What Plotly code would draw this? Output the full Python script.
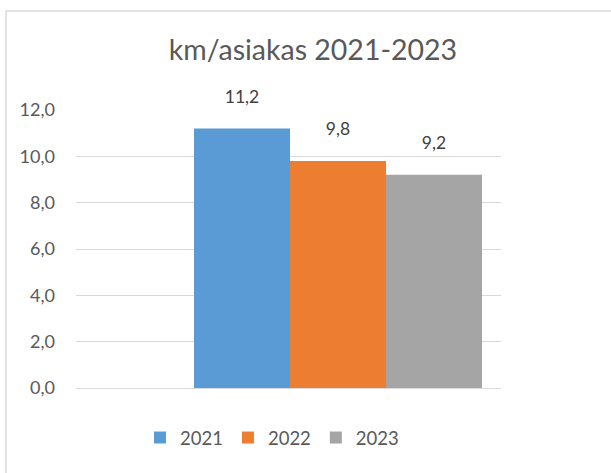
import plotly.graph_objects as go

years = ["2021", "2022", "2023"]
values = [11.2, 9.8, 9.2]
colors = ["#5b9bd5", "#ed7d31", "#a5a5a5"]
category = [0]
yticks = [0, 2, 4, 6, 8, 10, 12]

fig = go.Figure()
for yr, v, c in zip(years, values, colors):
    fig.add_trace(go.Bar(
        x=category, y=[v], name=yr, marker_color=c, marker_line_width=0,
        text=[v],
        texttemplate="%{y:.1f}<br><span style='font-size:1px'> </span>",
        textposition="outside",
        textfont=dict(size=17.5, color="#404040"), cliponaxis=False,
        hoverinfo="skip",
    ))

L, R, T, B = 76, 110, 110, 85
W, H = 611, 473
pw, ph = W - L - R, H - T - B
bargap = 0.32
grp_px = 288
units = pw / grp_px * (1 - bargap)
cx = 338
xr = [-(cx - L) / pw * units, (W - R - cx) / pw * units]

fig.update_layout(
    width=W, height=H,
    margin=dict(l=L, r=R, t=T, b=B),
    paper_bgcolor="white", plot_bgcolor="white",
    font=dict(family="Lato, Open Sans, sans-serif", color="#595959", size=16),
    separators=", ",
    barmode="group", bargap=bargap, bargroupgap=0,
    title=dict(text="km/asiakas 2021-2023", x=313 / W, xanchor="center",
               y=1 - 50 / H, yanchor="middle",
               font=dict(size=28.5, color="#595959")),
    showlegend=True,
    legend=dict(orientation="h", x=(272 - L) / pw, xanchor="center",
                y=(388 - 438) / ph, yanchor="middle",
                font=dict(size=18.5, color="#595959"),
                itemwidth=30, traceorder="normal"),
    xaxis=dict(range=xr, showticklabels=False, showgrid=False, zeroline=False,
               showline=False, ticks="", fixedrange=True),
    yaxis=dict(range=[0, 12], tickvals=yticks, tickformat=".1f",
               showgrid=True, gridcolor="#d9d9d9", gridwidth=1,
               zeroline=True, zerolinecolor="#d9d9d9", zerolinewidth=1,
               showline=False, ticks="", ticklabelstandoff=20,
               tickfont=dict(size=18, color="#595959"), fixedrange=True),
    shapes=[dict(type="rect", xref="paper", yref="paper",
                 x0=(6 - L) / pw, x1=(W + 20 - L) / pw,
                 y0=-(B + 20) / ph, y1=1 + (T - 11) / ph,
                 line=dict(color="#d9d9d9", width=1.5), fillcolor="rgba(0,0,0,0)",
                 layer="below")],
)

fig.write_html("out.html", config={"displayModeBar": False},
               post_script="document.body.style.margin='0px';document.body.style.overflow='hidden';")
